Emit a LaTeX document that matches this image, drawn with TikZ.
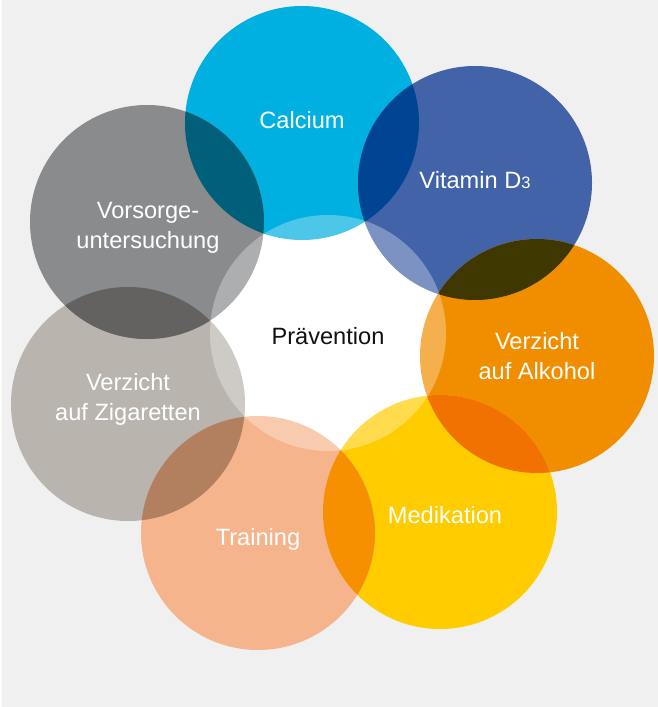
\documentclass[tikz,border=0pt]{standalone}
\usepackage{fontspec}
\setmainfont{Liberation Sans}
\definecolor{bg}{HTML}{F0F0F0}
\definecolor{cCal}{HTML}{00B0E0}
\definecolor{cVit}{HTML}{4263A8}
\definecolor{cAlk}{HTML}{F18E00}
\definecolor{cMed}{HTML}{FFCC00}
\definecolor{cTra}{HTML}{F6B48C}
\definecolor{cZig}{HTML}{B9B4AD}
\definecolor{cVor}{HTML}{8A8B8D}
\definecolor{xVorCal}{HTML}{00607C}
\definecolor{xCalVit}{HTML}{004494}
\definecolor{xVitAlk}{HTML}{3E3700}
\definecolor{xAlkMed}{HTML}{F17200}
\definecolor{xMedTra}{HTML}{F69000}
\definecolor{xTraZig}{HTML}{B27F5F}
\definecolor{xZigVor}{HTML}{646260}
\definecolor{txtdark}{HTML}{111111}
\tikzset{
  lbl/.style={text=white, font=\fontsize{23.6}{30}\selectfont, align=center, inner sep=0pt},
  clbl/.style={text=txtdark, font=\fontsize{23.6}{30}\selectfont, inner sep=0pt},
}
\newcommand{\rr}{117}
\begin{document}
\begin{tikzpicture}[x=1pt,y=-1pt]
\useasboundingbox (0,0) rectangle (658,707);
\fill[white] (0,0) rectangle (658,707);
\fill[bg] (2,0) rectangle (658,707);
% centres
\coordinate (pCal) at (302,123);
\coordinate (pVit) at (475,183);
\coordinate (pAlk) at (537,356);
\coordinate (pMed) at (440,512);
\coordinate (pTra) at (258,533);
\coordinate (pZig) at (128,404);
\coordinate (pVor) at (147,222);
\coordinate (pCen) at (328,333);
% white centre base
\fill[white] (pCen) circle (118);
% outer circles
\fill[cCal] (pCal) circle (\rr);
\fill[cVit] (pVit) circle (\rr);
\fill[cAlk] (pAlk) circle (\rr);
\fill[cMed] (pMed) circle (\rr);
\fill[cTra] (pTra) circle (\rr);
\fill[cZig] (pZig) circle (\rr);
\fill[cVor] (pVor) circle (\rr);
% overlaps
\begin{scope}\clip (pVor) circle (\rr); \fill[xVorCal] (pCal) circle (\rr);\end{scope}
\begin{scope}\clip (pCal) circle (\rr); \fill[xCalVit] (pVit) circle (\rr);\end{scope}
\begin{scope}\clip (pVit) circle (\rr); \fill[xVitAlk] (pAlk) circle (\rr);\end{scope}
\begin{scope}\clip (pAlk) circle (\rr); \fill[xAlkMed] (pMed) circle (\rr);\end{scope}
\begin{scope}\clip (pMed) circle (\rr); \fill[xMedTra] (pTra) circle (\rr);\end{scope}
\begin{scope}\clip (pTra) circle (\rr); \fill[xTraZig] (pZig) circle (\rr);\end{scope}
\begin{scope}\clip (pZig) circle (\rr); \fill[xZigVor] (pVor) circle (\rr);\end{scope}
% translucent centre
\fill[white, fill opacity=0.3] (pCen) circle (118);
% labels
\node[lbl, anchor=base] (tCal) at (302,128) {Calcium};
\node[lbl, anchor=base] (tVit) at (475,188) {Vitamin D{\fontsize{16.5}{16.5}\selectfont 3}};
\node[lbl] (tAlk) at (537,356.5) {Verzicht\\auf Alkohol};
\node[lbl, anchor=base] (tMed) at (445,523) {Medikation};
\node[lbl, anchor=base] (tTra) at (258,545) {Training};
\node[lbl] (tZig) at (128,399) {Verzicht\\auf Zigaretten};
\node[lbl] (tVor) at (148,228) {Vorsorge-\\untersuchung};
\node[clbl, anchor=base] (tCen) at (328,344) {Prävention};
\end{tikzpicture}
\end{document}
